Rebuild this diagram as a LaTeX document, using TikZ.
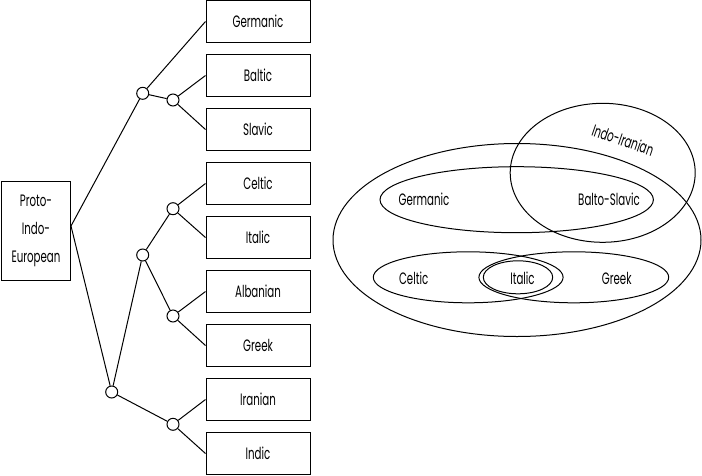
\documentclass[tikz,border=0pt]{standalone}
\usepackage{fontspec}
\setmainfont{Poppins}[FakeStretch=0.62]
\begin{document}
\begin{tikzpicture}[x=1pt,y=-1pt, line width=1pt,
  every node/.style={font=\fontsize{16.5}{28}\selectfont},
  lang/.style={draw, minimum width=104pt, minimum height=42pt, inner sep=0pt},
  junc/.style={draw, circle, minimum size=12pt, inner sep=0pt},
  lbl/.style={inner sep=0pt}]
\useasboundingbox (0,0) rectangle (702,475);
% tree
\node[draw, align=center, minimum width=69pt, minimum height=99pt, inner sep=0pt] (pie) at (36,231) {Proto-\\Indo-\\European};
\node[lang] (ger) at (258,21.5) {Germanic};
\node[lang] (bal) at (258,75.5) {Baltic};
\node[lang] (sla) at (258,129.5) {Slavic};
\node[lang] (cel) at (258,183.5) {Celtic};
\node[lang] (ita) at (258,237.5) {Italic};
\node[lang] (alb) at (258,291.5) {Albanian};
\node[lang] (gre) at (258,345.5) {Greek};
\node[lang] (ira) at (258,399.5) {Iranian};
\node[lang] (ind) at (258,453.5) {Indic};
\node[junc] (ja) at (142.7,93.3) {};
\node[junc] (jb) at (173,100) {};
\node[junc] (jc) at (173,208.7) {};
\node[junc] (jd) at (142.7,255) {};
\node[junc] (je) at (173,316) {};
\node[junc] (jf) at (111.7,392) {};
\node[junc] (jg) at (173,424.3) {};
\coordinate (pv) at ([yshift=5pt]pie.east);
\draw (pv) -- (ja);
\draw (pv) -- (jf);
\draw (ja) -- (ger.west);
\draw (ja) -- (jb);
\draw (jb) -- (bal.west);
\draw (jb) -- (sla.west);
\draw (jf) -- (jd);
\draw (jf) -- (jg);
\draw (jd) -- (jc);
\draw (jd) -- (je);
\draw (jc) -- (cel.west);
\draw (jc) -- (ita.west);
\draw (je) -- (alb.west);
\draw (je) -- (gre.west);
\draw (jg) -- (ira.west);
\draw (jg) -- (ind.west);
% ellipses
\draw (517,240) ellipse [x radius=184pt, y radius=96.5pt];
\draw (602.7,172.8) ellipse [x radius=92.5pt, y radius=69.5pt];
\draw (516.7,199.7) ellipse [x radius=136.7pt, y radius=33pt];
\draw (468.2,277.3) ellipse [x radius=94.9pt, y radius=25.5pt];
\draw (573.8,277.3) ellipse [x radius=94.9pt, y radius=25.5pt];
\draw (518,277.3) ellipse [x radius=34.7pt, y radius=16.5pt];
\node[lbl] (lger) at (424,199) {Germanic};
\node[lbl] (lbs) at (609,199) {Balto-Slavic};
\node[lbl] (lcel) at (413.7,278) {Celtic};
\node[lbl] (lita) at (522.5,278) {Italic};
\node[lbl] (lgre) at (616.7,278) {Greek};
\node[lbl, rotate=-19] (lii) at (623,140) {Indo-Iranian};
\end{tikzpicture}
\end{document}
